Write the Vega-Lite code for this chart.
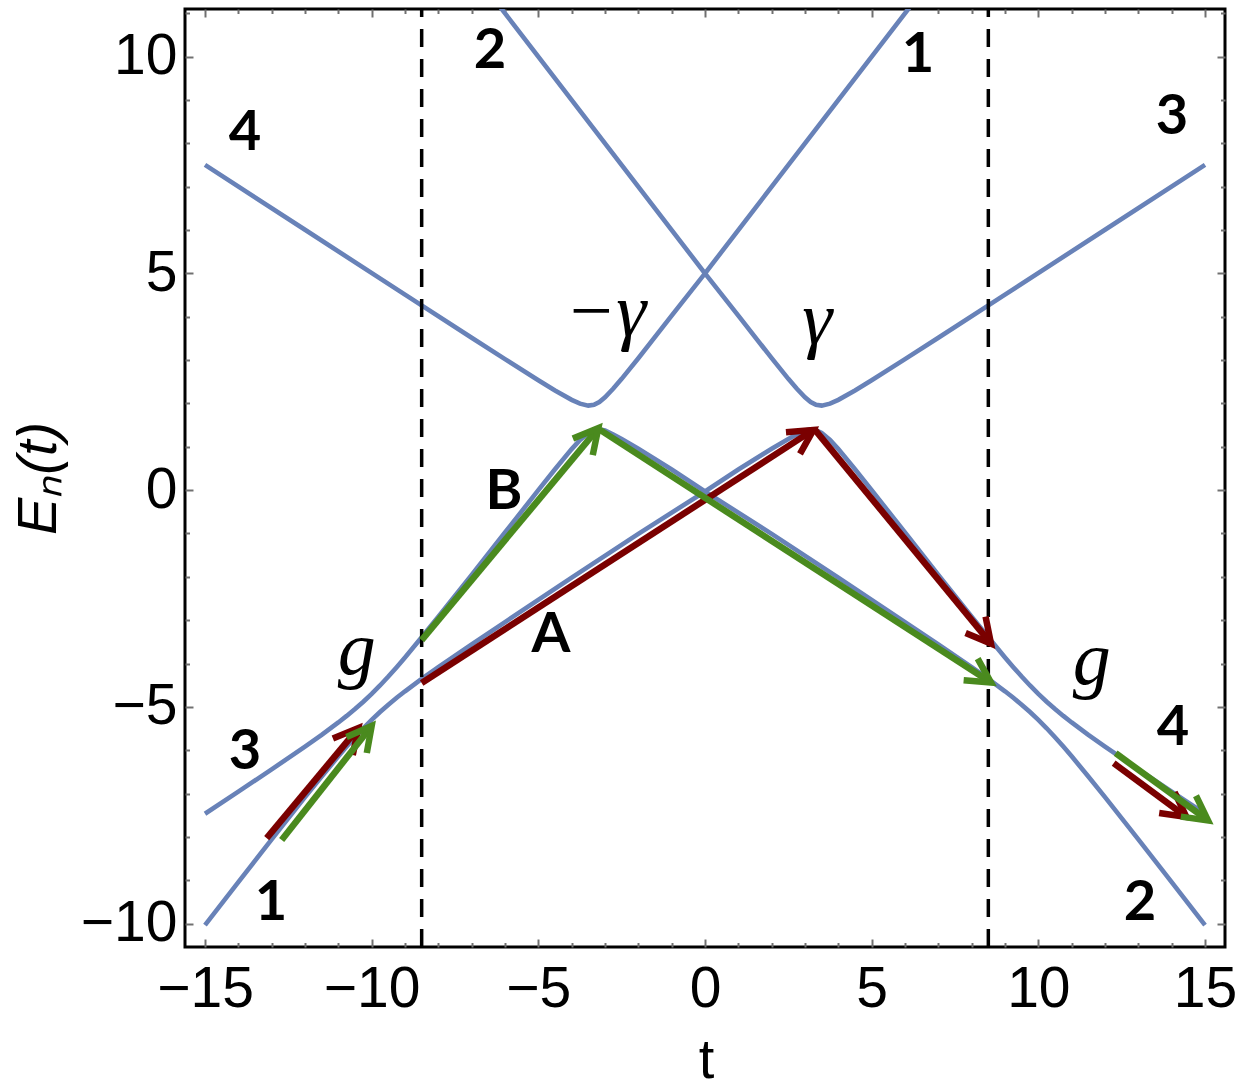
{
  "$schema": "https://vega.github.io/schema/vega-lite/v6.json",
  "width": 1040,
  "height": 938,
  "autosize": {"type": "none"},
  "padding": {"left": 185, "top": 9, "right": 19, "bottom": 142},
  "background": "white",
  "config": {
    "view": {"stroke": "#000000", "strokeWidth": 3},
    "axis": {
      "grid": false, "domain": false,
      "labelFont": "Liberation Sans", "labelFontSize": 57, "labelColor": "#000000",
      "titleFont": "Liberation Sans", "titleFontSize": 56, "titleColor": "#000000", "titleFontWeight": "normal",
      "labelFlush": false, "labelOverlap": false
    }
  },
  "datasets": {
    "curves": [
      {"curve": "L1", "t": -15, "e": -10.036}, {"curve": "L1", "t": -14, "e": -9.044}, {"curve": "L1", "t": -13, "e": -8.058},
      {"curve": "L1", "t": -12, "e": -7.083}, {"curve": "L1", "t": -11.5, "e": -6.605}, {"curve": "L1", "t": -11, "e": -6.141},
      {"curve": "L1", "t": -10.75, "e": -5.916}, {"curve": "L1", "t": -10.5, "e": -5.7}, {"curve": "L1", "t": -10.25, "e": -5.494},
      {"curve": "L1", "t": -10, "e": -5.3}, {"curve": "L1", "t": -9.75, "e": -5.119}, {"curve": "L1", "t": -9.5, "e": -4.95},
      {"curve": "L1", "t": -9.25, "e": -4.791}, {"curve": "L1", "t": -9, "e": -4.641}, {"curve": "L1", "t": -8.5, "e": -4.355},
      {"curve": "L1", "t": -8, "e": -4.083}, {"curve": "L1", "t": -7, "e": -3.558}, {"curve": "L1", "t": -6, "e": -3.044},
      {"curve": "L1", "t": -4, "e": -2.02}, {"curve": "L1", "t": -2, "e": -1.01}, {"curve": "L1", "t": 0, "e": -0.03},
      {"curve": "L1", "t": 2, "e": -1.01}, {"curve": "L1", "t": 4, "e": -2.02}, {"curve": "L1", "t": 6, "e": -3.044},
      {"curve": "L1", "t": 7, "e": -3.558}, {"curve": "L1", "t": 8, "e": -4.083}, {"curve": "L1", "t": 8.5, "e": -4.355},
      {"curve": "L1", "t": 9, "e": -4.641}, {"curve": "L1", "t": 9.25, "e": -4.791}, {"curve": "L1", "t": 9.5, "e": -4.95},
      {"curve": "L1", "t": 9.75, "e": -5.119}, {"curve": "L1", "t": 10, "e": -5.3}, {"curve": "L1", "t": 10.25, "e": -5.494},
      {"curve": "L1", "t": 10.5, "e": -5.7}, {"curve": "L1", "t": 10.75, "e": -5.916}, {"curve": "L1", "t": 11, "e": -6.141},
      {"curve": "L1", "t": 11.5, "e": -6.605}, {"curve": "L1", "t": 12, "e": -7.083}, {"curve": "L1", "t": 13, "e": -8.058},
      {"curve": "L1", "t": 14, "e": -9.044}, {"curve": "L1", "t": 15, "e": -10.036},

      {"curve": "L2", "t": -15, "e": -7.465}, {"curve": "L2", "t": -14, "e": -6.956}, {"curve": "L2", "t": -13, "e": -6.442},
      {"curve": "L2", "t": -12, "e": -5.917}, {"curve": "L2", "t": -11.5, "e": -5.645}, {"curve": "L2", "t": -11, "e": -5.36},
      {"curve": "L2", "t": -10.75, "e": -5.209}, {"curve": "L2", "t": -10.5, "e": -5.05}, {"curve": "L2", "t": -10.25, "e": -4.881},
      {"curve": "L2", "t": -10, "e": -4.7}, {"curve": "L2", "t": -9.75, "e": -4.506}, {"curve": "L2", "t": -9.5, "e": -4.3},
      {"curve": "L2", "t": -9.25, "e": -4.084}, {"curve": "L2", "t": -9, "e": -3.86}, {"curve": "L2", "t": -8.5, "e": -3.395},
      {"curve": "L2", "t": -8, "e": -2.917}, {"curve": "L2", "t": -7, "e": -1.958}, {"curve": "L2", "t": -6, "e": -0.978},
      {"curve": "L2", "t": -5, "e": 0.0}, {"curve": "L2", "t": -4.5, "e": 0.483}, {"curve": "L2", "t": -4, "e": 0.947},
      {"curve": "L2", "t": -3.75, "e": 1.158}, {"curve": "L2", "t": -3.5, "e": 1.32}, {"curve": "L2", "t": -3.33, "e": 1.38},
      {"curve": "L2", "t": -3.17, "e": 1.4}, {"curve": "L2", "t": -3, "e": 1.375}, {"curve": "L2", "t": -2.75, "e": 1.282},
      {"curve": "L2", "t": -2.5, "e": 1.182}, {"curve": "L2", "t": -2, "e": 0.956}, {"curve": "L2", "t": -1, "e": 0.475},
      {"curve": "L2", "t": 0, "e": -0.03},
      {"curve": "L2", "t": 1, "e": 0.475}, {"curve": "L2", "t": 2, "e": 0.956}, {"curve": "L2", "t": 2.5, "e": 1.182},
      {"curve": "L2", "t": 2.75, "e": 1.282}, {"curve": "L2", "t": 3, "e": 1.375}, {"curve": "L2", "t": 3.17, "e": 1.4},
      {"curve": "L2", "t": 3.33, "e": 1.38}, {"curve": "L2", "t": 3.5, "e": 1.32}, {"curve": "L2", "t": 3.75, "e": 1.158},
      {"curve": "L2", "t": 4, "e": 0.947}, {"curve": "L2", "t": 4.5, "e": 0.483}, {"curve": "L2", "t": 5, "e": 0.0},
      {"curve": "L2", "t": 6, "e": -0.978}, {"curve": "L2", "t": 7, "e": -1.958}, {"curve": "L2", "t": 8, "e": -2.917},
      {"curve": "L2", "t": 8.5, "e": -3.395}, {"curve": "L2", "t": 9, "e": -3.86}, {"curve": "L2", "t": 9.25, "e": -4.084},
      {"curve": "L2", "t": 9.5, "e": -4.3}, {"curve": "L2", "t": 9.75, "e": -4.506}, {"curve": "L2", "t": 10, "e": -4.7},
      {"curve": "L2", "t": 10.25, "e": -4.881}, {"curve": "L2", "t": 10.5, "e": -5.05}, {"curve": "L2", "t": 10.75, "e": -5.209},
      {"curve": "L2", "t": 11, "e": -5.36}, {"curve": "L2", "t": 11.5, "e": -5.645}, {"curve": "L2", "t": 12, "e": -5.917},
      {"curve": "L2", "t": 13, "e": -6.442}, {"curve": "L2", "t": 14, "e": -6.956}, {"curve": "L2", "t": 15, "e": -7.465},

      {"curve": "L3", "t": -15, "e": 7.505}, {"curve": "L3", "t": -12, "e": 6.007}, {"curve": "L3", "t": -9, "e": 4.51},
      {"curve": "L3", "t": -7, "e": 3.516}, {"curve": "L3", "t": -6, "e": 3.022}, {"curve": "L3", "t": -5, "e": 2.536},
      {"curve": "L3", "t": -4.5, "e": 2.3}, {"curve": "L3", "t": -4, "e": 2.083}, {"curve": "L3", "t": -3.75, "e": 1.996},
      {"curve": "L3", "t": -3.5, "e": 1.95}, {"curve": "L3", "t": -3.33, "e": 1.967}, {"curve": "L3", "t": -3.17, "e": 2.033},
      {"curve": "L3", "t": -3, "e": 2.141}, {"curve": "L3", "t": -2.75, "e": 2.343}, {"curve": "L3", "t": -2.5, "e": 2.568},
      {"curve": "L3", "t": -2, "e": 3.044}, {"curve": "L3", "t": -1, "e": 4.026}, {"curve": "L3", "t": 0, "e": 5.0},
      {"curve": "L3", "t": 1, "e": 4.026}, {"curve": "L3", "t": 2, "e": 3.044}, {"curve": "L3", "t": 2.5, "e": 2.568},
      {"curve": "L3", "t": 2.75, "e": 2.343}, {"curve": "L3", "t": 3, "e": 2.141}, {"curve": "L3", "t": 3.17, "e": 2.033},
      {"curve": "L3", "t": 3.33, "e": 1.967}, {"curve": "L3", "t": 3.5, "e": 1.95}, {"curve": "L3", "t": 3.75, "e": 1.996},
      {"curve": "L3", "t": 4, "e": 2.083}, {"curve": "L3", "t": 4.5, "e": 2.3}, {"curve": "L3", "t": 5, "e": 2.536},
      {"curve": "L3", "t": 6, "e": 3.022}, {"curve": "L3", "t": 7, "e": 3.516}, {"curve": "L3", "t": 9, "e": 4.51},
      {"curve": "L3", "t": 12, "e": 6.007}, {"curve": "L3", "t": 15, "e": 7.505},

      {"curve": "L4", "t": -6.4, "e": 11.4}, {"curve": "L4", "t": 0, "e": 5.0}, {"curve": "L4", "t": 6.4, "e": 11.4}
    ],
    "arrows": [
      {"path": "A", "t0": -13.15, "e0": -8.03, "t1": -10.4, "e1": -5.49},
      {"path": "A", "t0": -8.5, "e0": -4.45, "t1": 3.25, "e1": 1.39},
      {"path": "A", "t0": 3.3, "e0": 1.39, "t1": 8.58, "e1": -3.54},
      {"path": "A", "t0": 12.26, "e0": -6.3, "t1": 14.44, "e1": -7.54},
      {"path": "B", "t0": -12.7, "e0": -8.07, "t1": -10.0, "e1": -5.44},
      {"path": "B", "t0": -8.5, "e0": -3.46, "t1": -3.2, "e1": 1.43},
      {"path": "B", "t0": -3.15, "e0": 1.39, "t1": 8.58, "e1": -4.44},
      {"path": "B", "t0": 12.32, "e0": -6.07, "t1": 15.09, "e1": -7.62}
    ],
    "guides": [{"t": -8.5}, {"t": 8.5}],
    "boldLabels": [
      {"t": -13.8, "e": 8.24, "label": "4"}, {"t": -6.45, "e": 10.13, "label": "2"},
      {"t": 6.39, "e": 10.03, "label": "1"}, {"t": 14.01, "e": 8.6, "label": "3"},
      {"t": -13.8, "e": -6.04, "label": "3"}, {"t": -13.02, "e": -9.53, "label": "1"},
      {"t": 13.05, "e": -9.53, "label": "2"}, {"t": 14.04, "e": -5.49, "label": "4"},
      {"t": -6.03, "e": -0.05, "label": "B"}, {"t": -4.62, "e": -3.34, "label": "A"}
    ],
    "mathLabels": [
      {"t": -10.45, "e": -4.25, "label": "g"}, {"t": 11.6, "e": -4.48, "label": "g"},
      {"t": -2.98, "e": 3.55, "label": "−γ"}, {"t": 3.37, "e": 3.37, "label": "γ"}
    ]
  },
  "layer": [
    {
      "mark": {"type": "rule", "color": "#A8A8A8", "strokeWidth": 1.2},
      "encoding": {"x": {"datum": 0, "type": "quantitative", "scale": {"domain": [-15.6, 15.6], "nice": false, "zero": false}, "axis": null}}
    },
    {
      "mark": {"type": "rule", "color": "#A8A8A8", "strokeWidth": 1.2},
      "encoding": {"y": {"datum": 0, "type": "quantitative", "scale": {"domain": [-10.54, 11.1], "nice": false, "zero": false}, "axis": null}}
    },
    {
      "data": {"name": "curves"},
      "mark": {"type": "line", "color": "#6882B8", "strokeWidth": 4.6, "clip": true},
      "encoding": {
        "x": {"field": "t", "type": "quantitative", "scale": {"domain": [-15.6, 15.6], "nice": false, "zero": false},
          "axis": {"orient": "bottom", "values": [-15, -10, -5, 0, 5, 10, 15], "ticks": false, "tickSize": 0, "labelPadding": 14,
            "title": "t", "titleX": 521, "titleY": 130, "titleBaseline": "alphabetic", "titleAlign": "center"}},
        "y": {"field": "e", "type": "quantitative", "scale": {"domain": [-10.54, 11.1], "nice": false, "zero": false},
          "axis": {"orient": "left", "values": [-10, -5, 0, 5, 10], "ticks": false, "tickSize": 0, "labelPadding": 8,
            "title": "Eₙ(t)", "titleX": -147, "titleY": 469, "titleAngle": 270, "titleBaseline": "middle", "titleAlign": "center", "titleFontStyle": "italic"}},
        "detail": {"field": "curve"}
      }
    },
    {
      "data": {"name": "guides"},
      "mark": {"type": "rule", "color": "#000000", "strokeWidth": 3.5, "strokeDash": [18, 12], "strokeDashOffset": 10},
      "encoding": {"x": {"field": "t", "type": "quantitative", "scale": {"domain": [-15.6, 15.6], "nice": false, "zero": false}, "axis": null}}
    },
    {
      "data": {"name": "arrows"},
      "transform": [{"filter": "datum.path === 'A'"}],
      "mark": {"type": "rule", "color": "#7A0000", "strokeWidth": 6.5, "strokeCap": "butt"},
      "encoding": {
        "x": {"field": "t0", "type": "quantitative", "scale": {"domain": [-15.6, 15.6], "nice": false, "zero": false}, "axis": null},
        "y": {"field": "e0", "type": "quantitative", "scale": {"domain": [-10.54, 11.1], "nice": false, "zero": false}, "axis": null},
        "x2": {"field": "t1"},
        "y2": {"field": "e1"}
      }
    },
    {
      "data": {"name": "arrows"},
      "transform": [
        {"filter": "datum.path === 'A'"},
        {"calculate": "atan2((datum.t1-datum.t0)*33.333,(datum.e1-datum.e0)*43.35)*180/PI", "as": "ang"}
      ],
      "mark": {"type": "point", "shape": "M-0.48,0.9L0,0L0.48,0.9", "filled": false, "color": "#7A0000", "strokeWidth": 6.5, "strokeJoin": "miter", "strokeCap": "butt", "size": 2900, "opacity": 1},
      "encoding": {
        "x": {"field": "t1", "type": "quantitative", "scale": {"domain": [-15.6, 15.6], "nice": false, "zero": false},
          "axis": {"orient": "bottom", "values": [-15,-14,-13,-12,-11,-10,-9,-8,-7,-6,-5,-4,-3,-2,-1,0,1,2,3,4,5,6,7,8,9,10,11,12,13,14,15],
            "labels": false, "title": null, "ticks": true, "tickColor": "#707070", "tickWidth": 2,
            "tickSize": {"condition": {"test": "datum.value % 5 === 0", "value": -8}, "value": -4.5}}},
        "y": {"field": "e1", "type": "quantitative", "scale": {"domain": [-10.54, 11.1], "nice": false, "zero": false},
          "axis": {"orient": "left", "values": [-10,-9,-8,-7,-6,-5,-4,-3,-2,-1,0,1,2,3,4,5,6,7,8,9,10,11],
            "labels": false, "title": null, "ticks": true, "tickColor": "#707070", "tickWidth": 2,
            "tickSize": {"condition": {"test": "datum.value % 5 === 0", "value": -8}, "value": -4.5}}},
        "angle": {"field": "ang", "type": "quantitative", "scale": null}
      }
    },
    {
      "data": {"name": "arrows"},
      "transform": [{"filter": "datum.path === 'B'"}],
      "mark": {"type": "rule", "color": "#4A8A1E", "strokeWidth": 6.5, "strokeCap": "butt"},
      "encoding": {
        "x": {"field": "t0", "type": "quantitative", "scale": {"domain": [-15.6, 15.6], "nice": false, "zero": false}, "axis": null},
        "y": {"field": "e0", "type": "quantitative", "scale": {"domain": [-10.54, 11.1], "nice": false, "zero": false}, "axis": null},
        "x2": {"field": "t1"},
        "y2": {"field": "e1"}
      }
    },
    {
      "data": {"name": "arrows"},
      "transform": [
        {"filter": "datum.path === 'B'"},
        {"calculate": "atan2((datum.t1-datum.t0)*33.333,(datum.e1-datum.e0)*43.35)*180/PI", "as": "ang"}
      ],
      "mark": {"type": "point", "shape": "M-0.48,0.9L0,0L0.48,0.9", "filled": false, "color": "#4A8A1E", "strokeWidth": 6.5, "strokeJoin": "miter", "strokeCap": "butt", "size": 2900, "opacity": 1},
      "encoding": {
        "x": {"field": "t1", "type": "quantitative", "scale": {"domain": [-15.6, 15.6], "nice": false, "zero": false},
          "axis": {"orient": "top", "values": [-15,-14,-13,-12,-11,-10,-9,-8,-7,-6,-5,-4,-3,-2,-1,0,1,2,3,4,5,6,7,8,9,10,11,12,13,14,15],
            "labels": false, "title": null, "ticks": true, "tickColor": "#707070", "tickWidth": 2,
            "tickSize": {"condition": {"test": "datum.value % 5 === 0", "value": -8}, "value": -4.5}}},
        "y": {"field": "e1", "type": "quantitative", "scale": {"domain": [-10.54, 11.1], "nice": false, "zero": false},
          "axis": {"orient": "right", "values": [-10,-9,-8,-7,-6,-5,-4,-3,-2,-1,0,1,2,3,4,5,6,7,8,9,10,11],
            "labels": false, "title": null, "ticks": true, "tickColor": "#707070", "tickWidth": 2,
            "tickSize": {"condition": {"test": "datum.value % 5 === 0", "value": -8}, "value": -4.5}}},
        "angle": {"field": "ang", "type": "quantitative", "scale": null}
      }
    },
    {
      "data": {"name": "boldLabels"},
      "mark": {"type": "text", "font": "Lato", "fontWeight": "bold", "fontSize": 56, "color": "#000000", "align": "center", "baseline": "middle"},
      "encoding": {
        "x": {"field": "t", "type": "quantitative", "scale": {"domain": [-15.6, 15.6], "nice": false, "zero": false}, "axis": null},
        "y": {"field": "e", "type": "quantitative", "scale": {"domain": [-10.54, 11.1], "nice": false, "zero": false}, "axis": null},
        "text": {"field": "label"}
      }
    },
    {
      "data": {"name": "mathLabels"},
      "mark": {"type": "text", "font": "Liberation Serif", "fontStyle": "italic", "fontSize": 76, "color": "#000000", "align": "center", "baseline": "alphabetic"},
      "encoding": {
        "x": {"field": "t", "type": "quantitative", "scale": {"domain": [-15.6, 15.6], "nice": false, "zero": false}, "axis": null},
        "y": {"field": "e", "type": "quantitative", "scale": {"domain": [-10.54, 11.1], "nice": false, "zero": false}, "axis": null},
        "text": {"field": "label"}
      }
    }
  ],
  "resolve": {"axis": {"x": "independent", "y": "independent"}}
}
